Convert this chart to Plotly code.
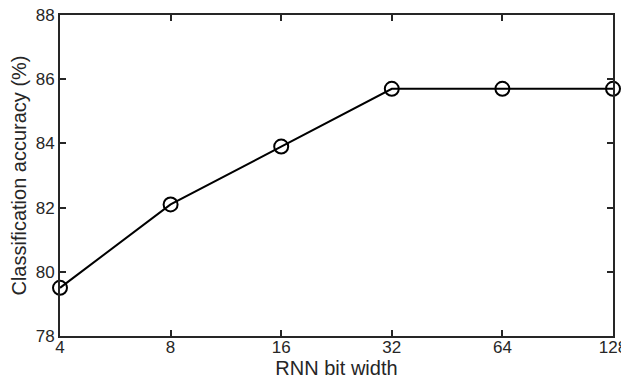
import plotly.graph_objects as go

bit_widths = ["4", "8", "16", "32", "64", "128"]
accuracy = [79.5, 82.1, 83.9, 85.7, 85.7, 85.7]
y_ticks = [78, 80, 82, 84, 86, 88]

FONT = "Liberation Sans"

fig = go.Figure()
fig.add_trace(go.Scatter(
    x=bit_widths, y=accuracy, mode="lines+markers",
    line=dict(color="black", width=2),
    marker=dict(symbol="circle-open", size=14, color="black", line=dict(width=2)),
    cliponaxis=False,
))

axis_common = dict(
    showline=True, linecolor="#262626", linewidth=2, mirror="ticks",
    ticks="inside", ticklen=6, tickwidth=1.5, tickcolor="#262626",
    showgrid=False, zeroline=False, automargin=False,
    ticklabeloverflow="allow",
    tickfont=dict(family=FONT, size=17, color="#262626"),
    title_font=dict(family=FONT, size=20, color="#262626"),
)

fig.update_xaxes(
    type="category", range=[0, len(bit_widths) - 1],
    ticklabelstandoff=-5,
    title_text="RNN bit width", title_standoff=0, **axis_common,
)
fig.update_yaxes(
    range=[78, 88], tickvals=y_ticks,
    title_text="Classification accuracy (%)", title_standoff=4, **axis_common,
)

# the page body adds an 8px offset, so the figure is sized to the remaining window
fig.update_layout(
    width=621, height=371,
    margin=dict(l=52, r=16, t=7, b=43),
    plot_bgcolor="white", paper_bgcolor="white",
    showlegend=False,
)

fig.write_html("out.html")
